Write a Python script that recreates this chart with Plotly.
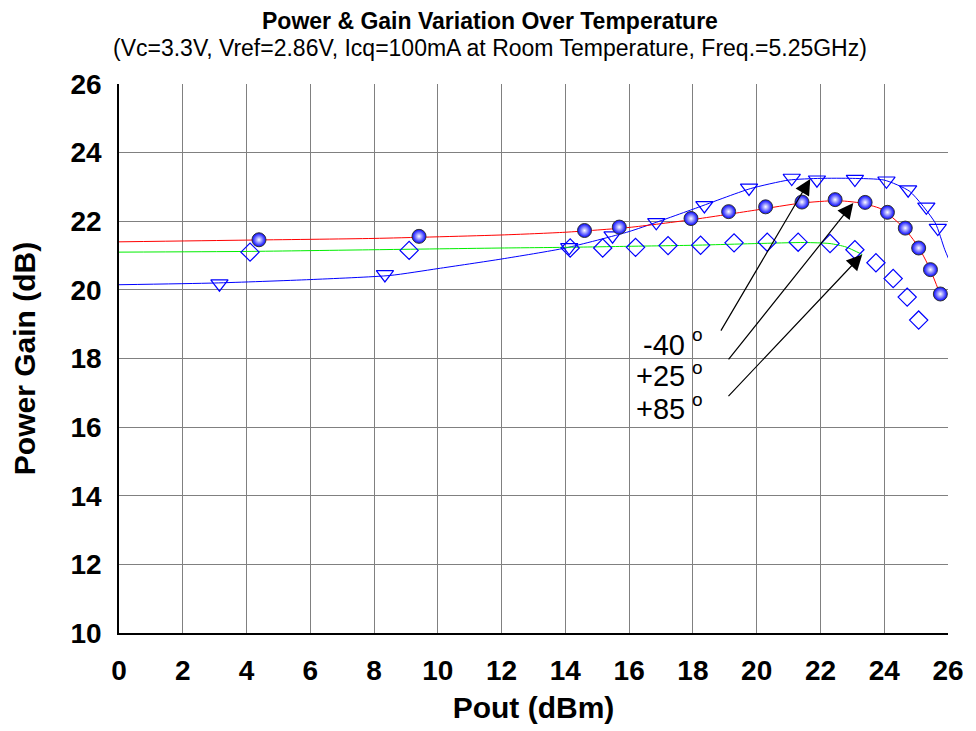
import plotly.graph_objects as go

# ── measured points (Pout dBm, gain dB) ──────────────────────────────
# -40 C : open down-triangles
m40_x = [3.15, 8.34, 14.12, 15.48, 16.85, 18.36, 19.76, 21.10, 21.89, 23.08, 24.07, 24.75, 25.32, 25.68]
m40_y = [20.18, 20.45, 21.24, 21.58, 21.97, 22.46, 22.97, 23.26, 23.21, 23.23, 23.18, 22.92, 22.42, 21.80]

# +25 C : shaded balls
p25_x = [4.39, 9.41, 14.60, 15.69, 17.94, 19.12, 20.28, 21.42, 22.46, 23.40, 24.10, 24.66, 25.08, 25.45, 25.76]
p25_y = [21.46, 21.56, 21.73, 21.83, 22.08, 22.28, 22.42, 22.56, 22.63, 22.55, 22.26, 21.80, 21.22, 20.59, 19.88]

# +85 C : open diamonds
p85_x = [4.11, 9.10, 14.15, 15.17, 16.20, 17.22, 18.24, 19.29, 20.33, 21.30, 22.30, 23.08, 23.74, 24.28, 24.72, 25.08]
p85_y = [21.10, 21.15, 21.22, 21.22, 21.24, 21.29, 21.30, 21.37, 21.39, 21.39, 21.35, 21.17, 20.79, 20.33, 19.79, 19.12]

# ── fitted curves ────────────────────────────────────────────────────
fit40_x = [0, 3, 6, 8.5, 10, 12, 14, 16, 18, 19.8, 21, 22, 23, 24, 24.8, 25.6, 25.9, 26.3]
fit40_y = [20.15, 20.2, 20.3, 20.42, 20.62, 20.9, 21.22, 21.7, 22.35, 22.95, 23.2, 23.25, 23.25, 23.2, 22.87, 21.95, 21.17, 20.3]

fit25_x = [0, 4, 8, 12, 14, 16, 18, 20, 21.4, 22.5, 23.2, 23.9, 24.6, 25.06, 25.42, 25.75]
fit25_y = [21.4, 21.45, 21.5, 21.6, 21.68, 21.82, 22.05, 22.33, 22.53, 22.6, 22.54, 22.36, 21.82, 21.27, 20.64, 19.88]

fit85_x = [0, 4, 8, 12, 14, 16, 18, 20, 21.5, 22.3, 22.8, 23.31]
fit85_y = [21.1, 21.12, 21.17, 21.22, 21.24, 21.27, 21.3, 21.35, 21.38, 21.35, 21.25, 21.03]

x_ticks = list(range(0, 27, 2))
y_ticks = list(range(10, 27, 2))

# arrow labels: text, label pos, arrow tail, arrow tip
labels = ["-40", "+25", "+85"]
label_y = [18.40, 17.50, 16.53]
deg_y = [18.69, 17.73, 16.80]
tail_x = [18.85, 19.08, 19.07]
tail_y = [18.77, 17.93, 16.86]
tip_x = [21.68, 23.03, 23.31]
tip_y = [23.23, 22.53, 21.03]

FONT = "Liberation Sans, Arial, sans-serif"

fig = go.Figure()

fig.add_trace(go.Scatter(x=fit40_x, y=fit40_y, mode="lines", line=dict(color="#0000ff", width=1, shape="spline", smoothing=0.6)))
fig.add_trace(go.Scatter(x=fit25_x, y=fit25_y, mode="lines", line=dict(color="#ff0000", width=1, shape="spline", smoothing=0.6)))
fig.add_trace(go.Scatter(x=fit85_x, y=fit85_y, mode="lines", line=dict(color="#00ee00", width=1, shape="spline", smoothing=0.6)))

fig.add_trace(go.Scatter(
    x=m40_x, y=m40_y, mode="markers",
    marker=dict(symbol="triangle-down-open", size=15, color="#0000ff", line=dict(width=1.2)),
))
fig.add_trace(go.Scatter(
    x=p85_x, y=p85_y, mode="markers",
    marker=dict(symbol="diamond-open", size=14, color="#0000ff", line=dict(width=1.2)),
))
fig.add_trace(go.Scatter(
    x=p25_x, y=p25_y, mode="markers",
    marker=dict(symbol="circle", size=14, color="#0000ff",
                gradient=dict(type="radial", color="#ffffff"),
                line=dict(width=1, color="#333333")),
))

for i, t in enumerate(labels):
    fig.add_annotation(
        x=tip_x[i], y=tip_y[i], ax=tail_x[i], ay=tail_y[i],
        xref="x", yref="y", axref="x", ayref="y",
        text="", showarrow=True, arrowhead=2, arrowsize=2.6, arrowwidth=1.2, arrowcolor="black",
    )
    fig.add_annotation(
        x=17.82, y=label_y[i], xref="x", yref="y", xanchor="right", yanchor="middle",
        text=t, showarrow=False, font=dict(family=FONT, size=29, color="black"),
    )
    fig.add_annotation(
        x=18.13, y=deg_y[i], xref="x", yref="y", xanchor="center", yanchor="middle",
        text="o", showarrow=False, font=dict(family=FONT, size=19, color="black"),
    )

fig.add_annotation(
    x=0.5, y=1.0, xref="paper", yref="paper", yanchor="middle", yshift=63, xshift=-44,
    text="<b>Power & Gain Variation Over Temperature</b>", showarrow=False,
    font=dict(family=FONT, size=23, color="black"),
)
fig.add_annotation(
    x=0.5, y=1.0, xref="paper", yref="paper", yanchor="middle", yshift=36, xshift=-44,
    text="(Vc=3.3V, Vref=2.86V, Icq=100mA at Room Temperature, Freq.=5.25GHz)", showarrow=False,
    font=dict(family=FONT, size=23, color="black"),
)

# page body adds an 8px offset, so the figure is 8px smaller than the window
fig.update_layout(
    width=968, height=723,
    margin=dict(l=111, r=22, t=76, b=96),
    plot_bgcolor="white", paper_bgcolor="white",
    showlegend=False,
    font=dict(family=FONT, color="black"),
    xaxis=dict(
        range=[0, 26], tickvals=x_ticks, ticktext=[str(v) for v in x_ticks],
        showgrid=True, gridcolor="#808080", gridwidth=1,
        showline=True, linecolor="black", linewidth=1.5, mirror=False,
        zeroline=False, ticks="", ticklabelstandoff=12,
        tickfont=dict(family=FONT, size=28, weight="bold"),
        title=dict(text="<b>Pout (dBm)</b>", font=dict(family=FONT, size=30), standoff=12),
    ),
    yaxis=dict(
        range=[10, 26], tickvals=y_ticks, ticktext=[str(v) for v in y_ticks],
        showgrid=True, gridcolor="#808080", gridwidth=1,
        showline=True, linecolor="black", linewidth=1.5, mirror=False,
        zeroline=False, ticks="", ticklabelstandoff=10,
        tickfont=dict(family=FONT, size=28, weight="bold"),
        title=dict(text="<b>Power Gain (dB)</b>", font=dict(family=FONT, size=30), standoff=26),
    ),
)

fig.write_html("out.html")
